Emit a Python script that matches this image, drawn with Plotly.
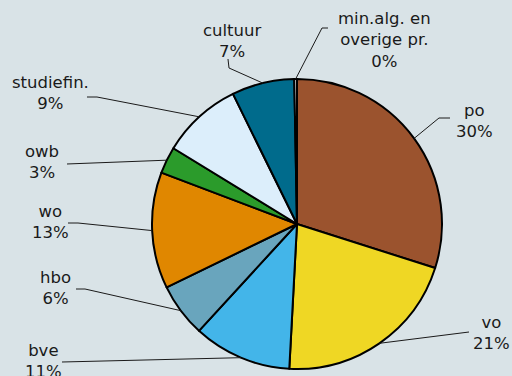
import math
import plotly.graph_objects as go

# Budget shares per sector (percent)
sectors = ["po", "vo", "bve", "hbo", "wo", "owb", "studiefin.", "cultuur",
           "min.alg. en<br>overige pr."]
shares = [30, 21, 11, 6, 13, 3, 9, 7, 0.3]
colors = ["#9b532e", "#efd724", "#43b5e9", "#69a5bd", "#e08700",
          "#2b9b2b", "#dceefb", "#006b8c", "#eef3f6"]

W, H = 512, 376
BG = "#d9e3e7"

# Pie placement in pixels (centre and radius)
CX, CY, R = 297, 224, 145

# Label block centres and leader-line start / elbow points (pixels)
label_pos = [(474, 121), (491, 333), (43, 361), (55, 288), (50, 222),
             (42, 162), (50, 93), (232, 41), (384, 40)]
leader_start = [(450, 118), (469, 332), (62, 362), (76, 289), (68, 223),
                (67, 164), (87, 97), (228, 59), (328, 28)]
leader_elbow = [(439, 118), None, None, (85, 289), (78, 223),
                None, (97, 97), (229, 68), (322, 28)]


def px(x, y):
    return x / W, 1 - y / H


fig = go.Figure(go.Pie(
    labels=sectors,
    values=shares,
    sort=False,
    direction="clockwise",
    rotation=0,
    textinfo="none",
    hoverinfo="label+percent",
    marker=dict(colors=colors, line=dict(color="#000000", width=2)),
    domain=dict(x=[(CX - R) / W, (CX + R) / W],
                y=[(H - CY - R) / H, (H - CY + R) / H]),
    showlegend=False,
))

total = sum(shares)
cum = 0.0
shapes, annotations = [], []
for name, v, lp, st, el in zip(sectors, shares, label_pos, leader_start, leader_elbow):
    mid = (cum + v / 2) / total * 2 * math.pi
    cum += v
    ax, ay = CX + R * math.sin(mid), CY - R * math.cos(mid)
    pts = [st] + ([el] if el else []) + [(ax, ay)]
    path = "M " + " L ".join("{:.5f},{:.5f}".format(*px(x, y)) for x, y in pts)
    shapes.append(dict(type="path", path=path, xref="paper", yref="paper",
                       line=dict(color="#1a1a1a", width=1)))
    pct = round(v / total * 100)
    x, y = px(*lp)
    annotations.append(dict(text=f"{name}<br>{pct}%", x=x, y=y, xref="paper",
                            yref="paper", xanchor="center", yanchor="middle",
                            showarrow=False, align="center",
                            font=dict(size=16.5, color="#1a1a1a")))

fig.update_layout(
    width=W, height=H,
    margin=dict(l=0, r=0, t=0, b=0),
    paper_bgcolor=BG, plot_bgcolor=BG,
    font=dict(family="DejaVu Sans", size=16.5, color="#1a1a1a"),
    shapes=shapes, annotations=annotations,
)

fig.write_html("out.html")
